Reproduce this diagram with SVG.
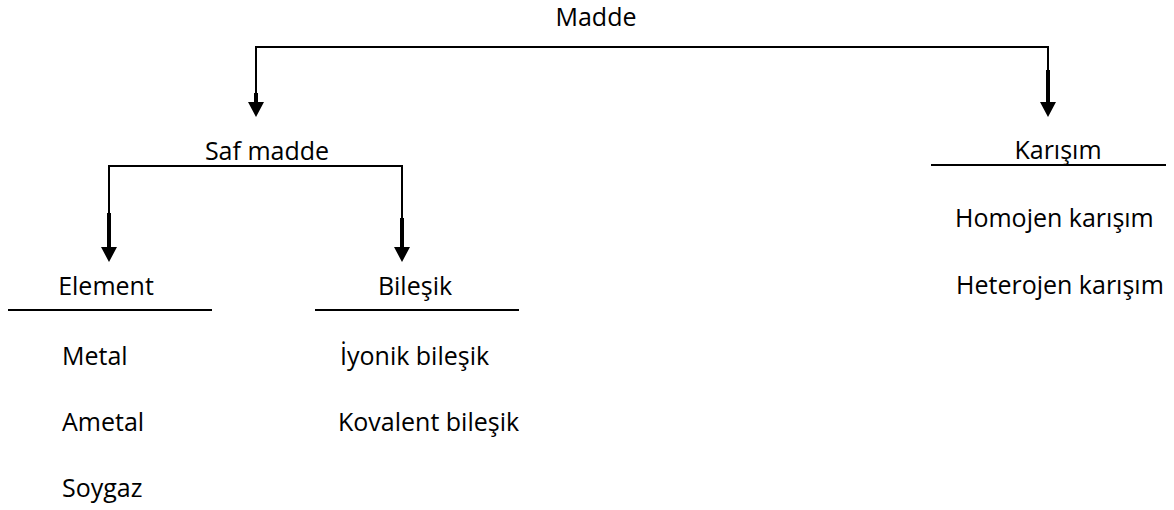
<svg xmlns="http://www.w3.org/2000/svg" width="1174" height="510" viewBox="0 0 1174 510">
  <style>
    text { font-family: "Open Sans", "Noto Sans", "Liberation Sans", sans-serif; font-size: 25px; fill: #000; }
    .mid { text-anchor: middle; }
    .rule { stroke: #000; stroke-width: 2; fill: none; }
    .wire { stroke: #000; stroke-width: 2; fill: none; }
    .shaft { stroke: #000; stroke-width: 4; fill: none; }
    .head { fill: #000; }
  </style>
  <defs>
    <!-- downward arrowhead, tip at origin -->
    <polygon id="tip" class="head" points="-8,-15 8,-15 0,0"/>
  </defs>

  <rect width="1174" height="510" fill="#fff"/>

  <!-- connectors -->
  <g id="connectors">
    <!-- Madde to Saf madde / Karışım -->
    <polyline class="wire" points="256,94 256,47 1048,47 1048,71"/>
    <line class="shaft" x1="256" y1="93" x2="256" y2="104"/>
    <line class="shaft" x1="1048" y1="70" x2="1048" y2="104"/>
    <use href="#tip" x="256" y="117"/>
    <use href="#tip" x="1048" y="117"/>
    <!-- Saf madde to Element / Bileşik -->
    <polyline class="wire" points="109,214 109,166 402,166 402,219"/>
    <line class="shaft" x1="109" y1="213" x2="109" y2="249"/>
    <line class="shaft" x1="402" y1="218" x2="402" y2="249"/>
    <use href="#tip" x="109" y="262"/>
    <use href="#tip" x="402" y="262"/>
  </g>

  <g id="madde">
    <text class="mid" x="596" y="26">Madde</text>
  </g>

  <g id="saf-madde">
    <text class="mid" x="267" y="160">Saf madde</text>
  </g>

  <g id="karisim">
    <text class="mid" x="1058" y="159">Karışım</text>
    <line class="rule" x1="931" y1="165" x2="1166" y2="165"/>
    <text x="955" y="227">Homojen karışım</text>
    <text x="956" y="294">Heterojen karışım</text>
  </g>

  <g id="element">
    <text class="mid" x="106" y="295">Element</text>
    <line class="rule" x1="8" y1="310" x2="212" y2="310"/>
    <text x="62" y="365">Metal</text>
    <text x="62" y="431">Ametal</text>
    <text x="62" y="497">Soygaz</text>
  </g>

  <g id="bilesik">
    <text class="mid" x="415" y="295">Bileşik</text>
    <line class="rule" x1="315" y1="310" x2="519" y2="310"/>
    <text x="340" y="365">İyonik bileşik</text>
    <text x="338" y="431">Kovalent bileşik</text>
  </g>
</svg>
